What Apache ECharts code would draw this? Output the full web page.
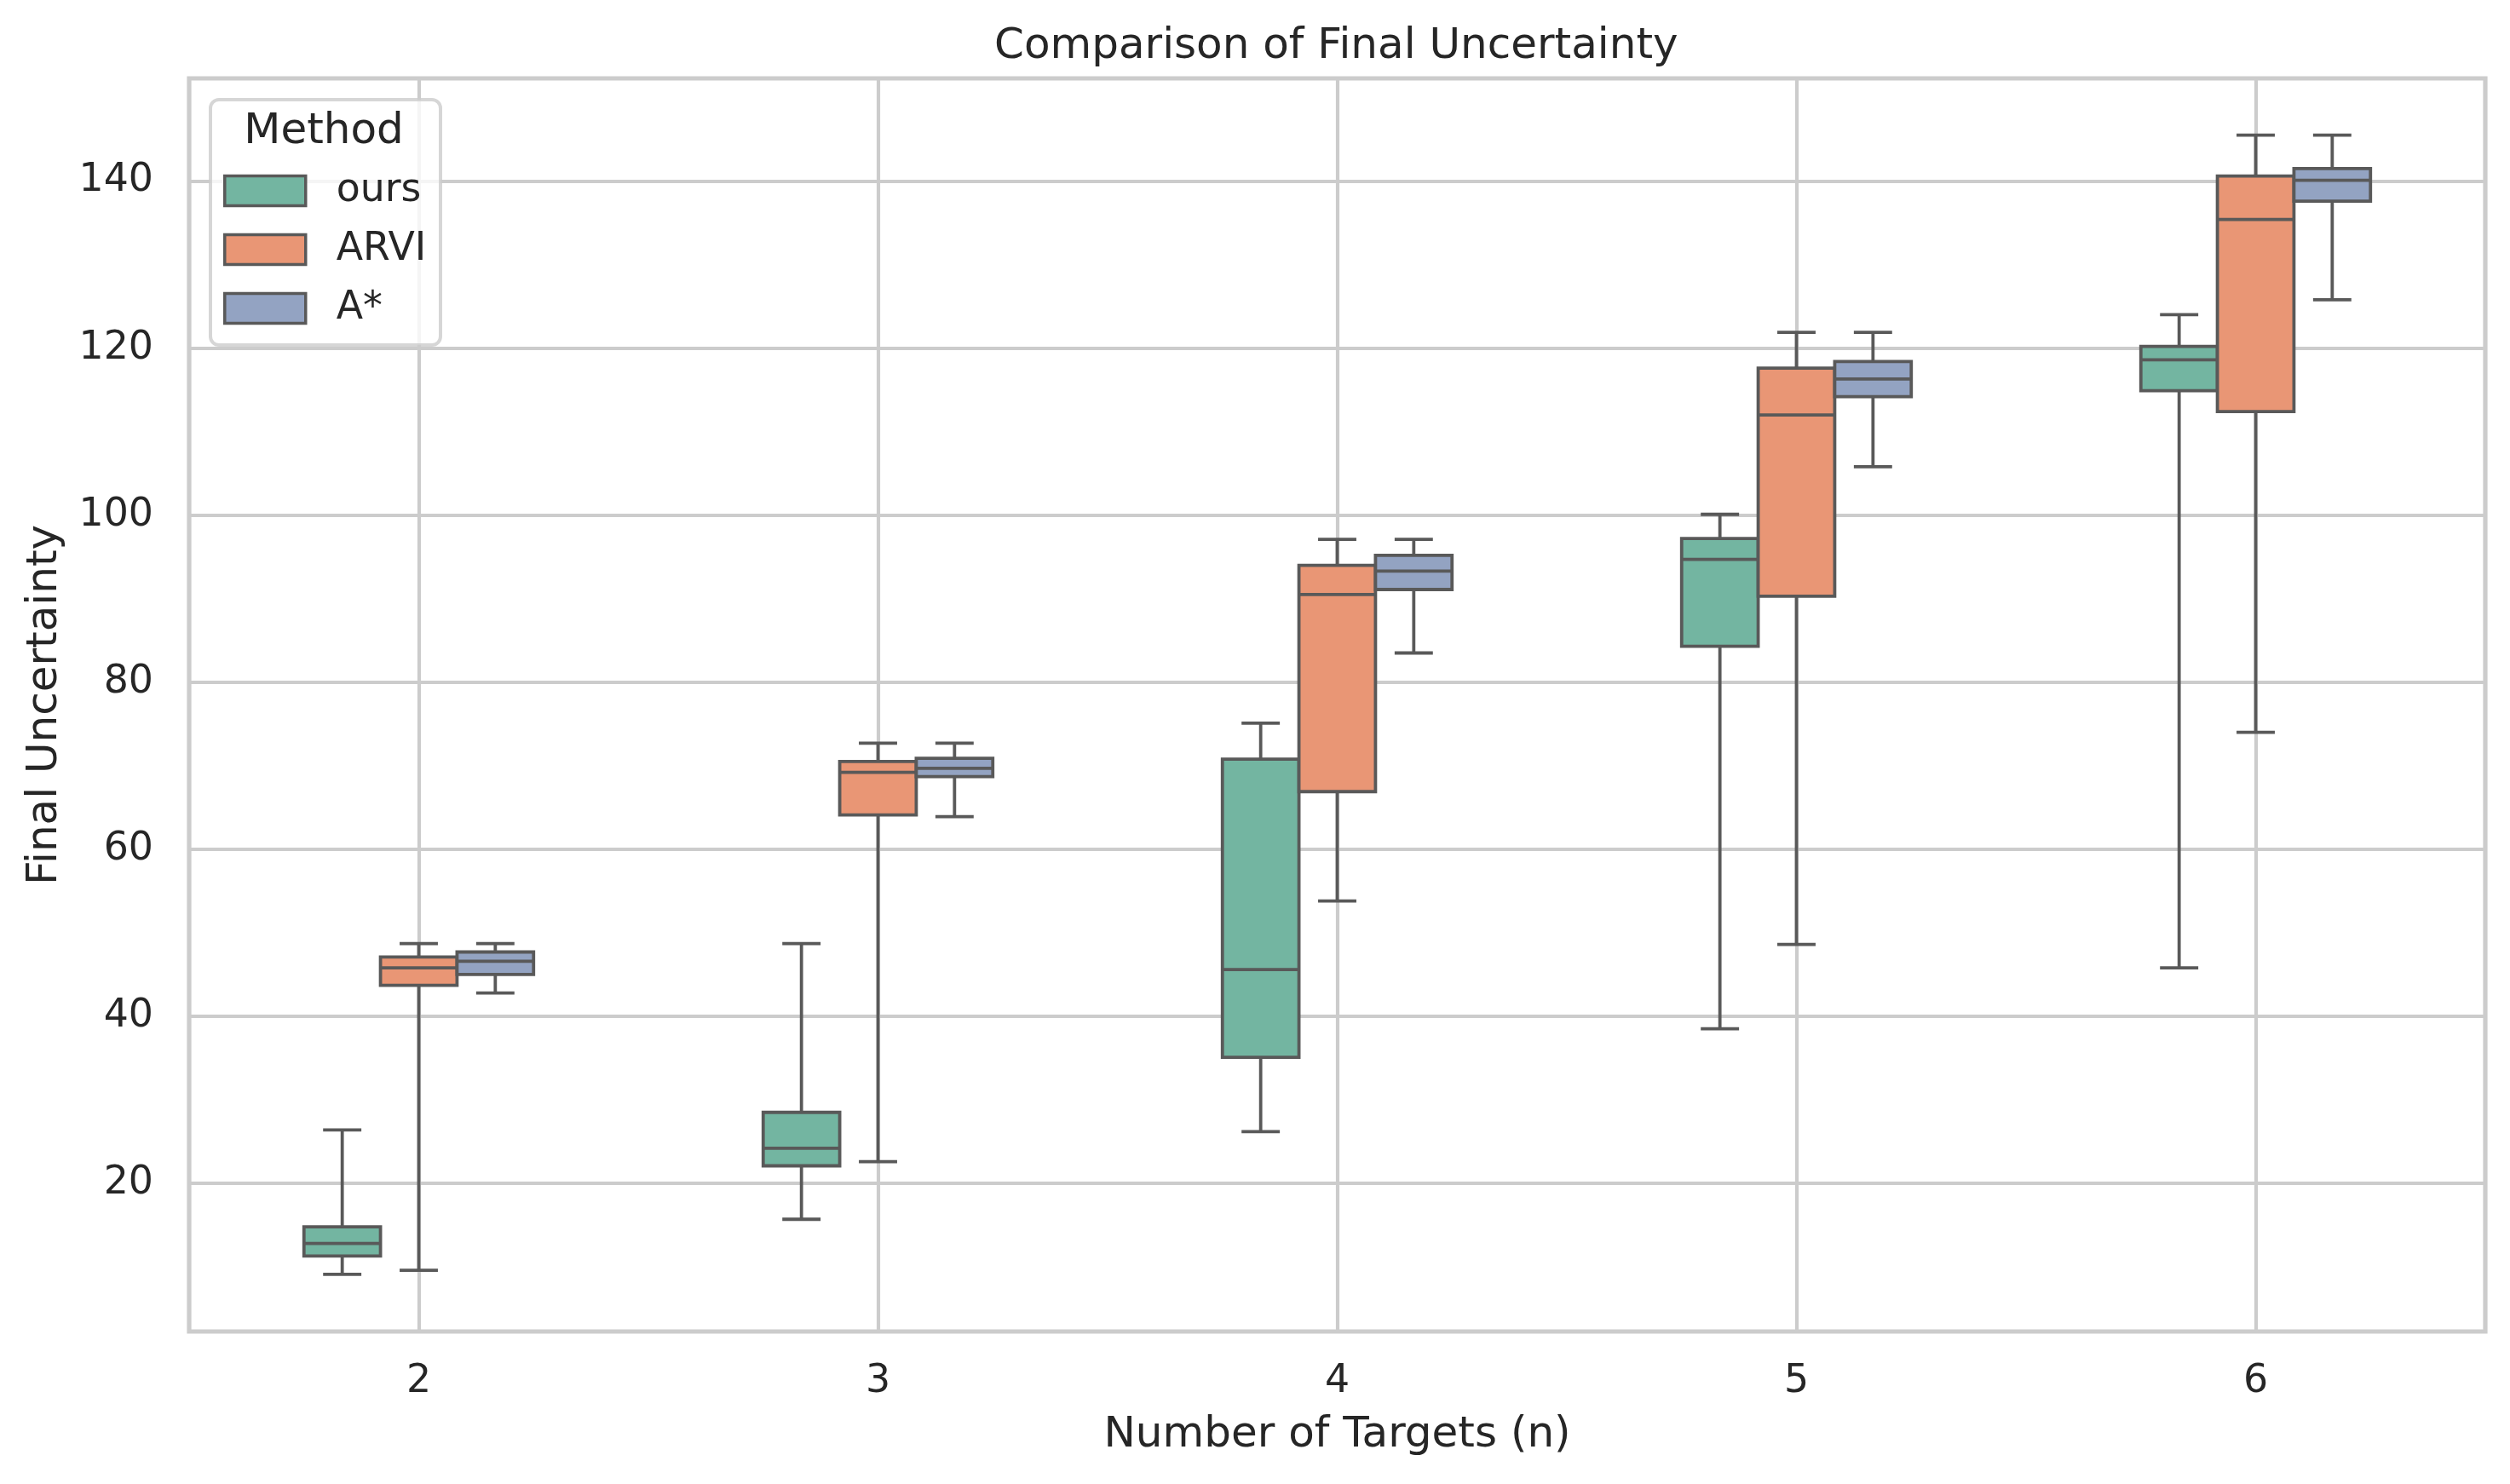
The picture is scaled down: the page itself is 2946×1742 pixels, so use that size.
<!DOCTYPE html>
<html>
<head>
<meta charset="utf-8">
<script src="https://cdn.jsdelivr.net/npm/echarts@6/dist/echarts.min.js"></script>
<style>
html,body{margin:0;padding:0;background:#ffffff;}
#chart{width:2946px;height:1742px;}
</style>
</head>
<body>
<div id="chart"></div>
<script>
// ---- data ----
const categories = ['2', '3', '4', '5', '6'];
const methods = ['ours', 'ARVI', 'A*'];
// each entry: [lower whisker, Q1, median, Q3, upper whisker]
const oursStats = [
  [9.1, 11.3, 12.8, 14.8, 26.4],
  [15.7, 22.1, 24.2, 28.5, 48.7],
  [26.2, 35.1, 45.6, 70.8, 75.1],
  [38.5, 84.3, 94.7, 97.2, 100.1],
  [45.8, 114.9, 118.6, 120.2, 124.0]
];
const arviStats = [
  [9.6, 43.7, 45.8, 47.1, 48.7],
  [22.6, 64.1, 69.2, 70.5, 72.7],
  [53.8, 66.9, 90.5, 94.0, 97.1],
  [48.6, 90.3, 112.0, 117.6, 121.9],
  [74.0, 112.4, 135.4, 140.6, 145.5]
];
const astarStats = [
  [42.8, 45.0, 46.6, 47.7, 48.7],
  [63.9, 68.7, 69.7, 70.9, 72.7],
  [83.5, 91.1, 93.3, 95.2, 97.1],
  [105.8, 114.2, 116.3, 118.4, 121.9],
  [125.8, 137.6, 140.1, 141.5, 145.5]
];
const yMin = 2.26;
const yMax = 152.3;

// ---- styles ----
const FONT = 'DejaVu Sans';
const TEXT = '#262626';
const LINE = '#595959';
const GRIDC = '#cccccc';
const fills = ['#73b5a1', '#e99675', '#93a3c2'];
const BOX_FRAC = 0.5;   // total width of the hue group as a fraction of the band
const CAP_FRAC = 0.5;   // cap width as fraction of box width
const LW = 3.8;

const allStats = [oursStats, arviStats, astarStats];

function makeRender(k) {
  return function (params, api) {
    const ci = api.value(0);
    const band = api.size([1, 0])[0];
    const w = band * BOX_FRAC / methods.length;
    const cx = api.coord([ci, 0])[0] + (k - (methods.length - 1) / 2) * w;
    const pLo = api.coord([ci, api.value(1)])[1];
    const pQ1 = api.coord([ci, api.value(2)])[1];
    const pMed = api.coord([ci, api.value(3)])[1];
    const pQ3 = api.coord([ci, api.value(4)])[1];
    const pHi = api.coord([ci, api.value(5)])[1];
    const cw = w * CAP_FRAC;
    const ls = { stroke: LINE, lineWidth: LW, fill: null };
    return {
      type: 'group',
      children: [
        { type: 'line', shape: { x1: cx, y1: pHi, x2: cx, y2: pQ3 }, style: ls },
        { type: 'line', shape: { x1: cx, y1: pQ1, x2: cx, y2: pLo }, style: ls },
        { type: 'line', shape: { x1: cx - cw / 2, y1: pHi, x2: cx + cw / 2, y2: pHi }, style: ls },
        { type: 'line', shape: { x1: cx - cw / 2, y1: pLo, x2: cx + cw / 2, y2: pLo }, style: ls },
        { type: 'rect', shape: { x: cx - w / 2, y: pQ3, width: w, height: pQ1 - pQ3 },
          style: { fill: fills[k], stroke: LINE, lineWidth: LW } },
        { type: 'line', shape: { x1: cx - w / 2, y1: pMed, x2: cx + w / 2, y2: pMed }, style: ls }
      ]
    };
  };
}

const series = methods.map(function (name, k) {
  return {
    name: name,
    type: 'custom',
    renderItem: makeRender(k),
    itemStyle: { color: fills[k], borderColor: LINE, borderWidth: LW },
    encode: { x: 0, y: [1, 2, 3, 4, 5] },
    data: allStats[k].map(function (s, i) { return [i].concat(s); }),
    z: 2
  };
});

const chart = echarts.init(document.getElementById('chart'), null, { renderer: 'canvas' });
chart.setOption({
  backgroundColor: '#ffffff',
  animation: false,
  title: {
    text: 'Comparison of Final Uncertainty',
    left: 1167, top: 30, padding: 0,
    textStyle: { fontFamily: FONT, fontSize: 50, fontWeight: 'normal', color: TEXT }
  },
  grid: {
    left: 222, right: 29, top: 92, bottom: 179,
    show: true, borderColor: GRIDC, borderWidth: 5.2, backgroundColor: 'transparent'
  },
  xAxis: {
    type: 'category',
    data: categories,
    boundaryGap: true,
    name: 'Number of Targets (n)',
    nameLocation: 'middle',
    nameGap: 97,
    nameTextStyle: { fontFamily: FONT, fontSize: 50, color: TEXT },
    axisLine: { show: false },
    axisTick: { show: false, alignWithLabel: true },
    axisLabel: { fontFamily: FONT, fontSize: 45.8, color: TEXT, margin: 36 },
    splitLine: { show: true, alignWithLabel: true, lineStyle: { color: GRIDC, width: 4.17 } }
  },
  yAxis: {
    type: 'value',
    min: yMin, max: yMax,
    splitNumber: 7,
    name: 'Final Uncertainty',
    nameLocation: 'middle',
    nameGap: 144,
    nameTextStyle: { fontFamily: FONT, fontSize: 50, color: TEXT },
    axisLine: { show: false },
    axisTick: { show: false },
    axisLabel: { fontFamily: FONT, fontSize: 45.8, color: TEXT, margin: 42, showMinLabel: false, showMaxLabel: false },
    splitLine: { show: true, lineStyle: { color: GRIDC, width: 4.17 } }
  },
  legend: {
    data: methods,
    orient: 'vertical',
    left: 262, top: 201,
    padding: 0,
    itemWidth: 95, itemHeight: 35, itemGap: 23,
    icon: 'rect',
    itemStyle: { borderColor: LINE, borderWidth: 3.5 },
    textStyle: { fontFamily: FONT, fontSize: 45.8, color: TEXT, padding: [0, 0, 0, 31] },
    selectedMode: false,
    z: 60
  },
  graphic: [
    {
      type: 'rect', left: 245, top: 115, z: 50,
      shape: { width: 270, height: 288, r: 10 },
      style: { fill: 'rgba(255,255,255,0.8)', stroke: 'rgba(204,204,204,0.8)', lineWidth: 4 }
    },
    {
      type: 'text', z: 55, x: 380, y: 155,
      style: { text: 'Method', fontFamily: FONT, fontSize: 50, fill: TEXT, textAlign: 'center', textVerticalAlign: 'middle' }
    }
  ],
  series: series
});
</script>
</body>
</html>
